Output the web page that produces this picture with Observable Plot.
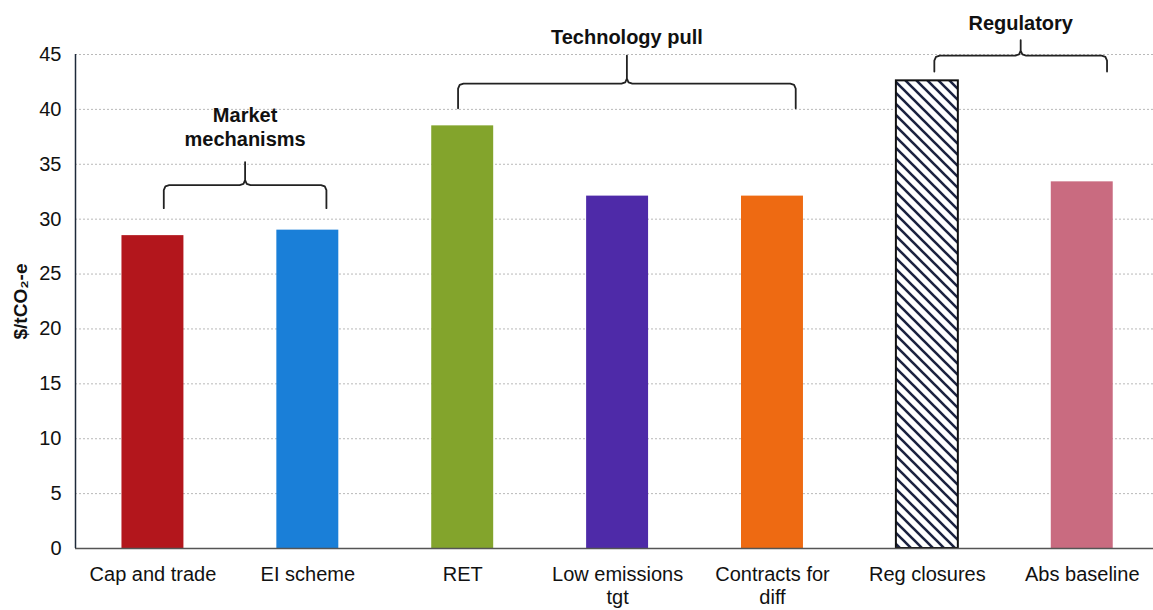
<!DOCTYPE html>
<html>
<head>
<meta charset="utf-8">
<script src="https://cdn.jsdelivr.net/npm/d3@7"></script>
<script src="https://cdn.jsdelivr.net/npm/@observablehq/plot@0.6"></script>
<style>
  html, body { margin: 0; padding: 0; background: #ffffff; }
  #chart { width: 1153px; height: 610px; overflow: hidden; }
</style>
</head>
<body>
<div id="chart"></div>
<script>
// ---- data ----
const categories = ["Cap and trade", "EI scheme", "RET", "Low emissions\ntgt", "Contracts for\ndiff", "Reg closures", "Abs baseline"];
const values = [28.5, 29.0, 38.5, 32.1, 32.1, 42.6, 33.4];
const barColors = ["#b3161c", "#1a7fd8", "#83a42c", "#4e2aa8", "#ee6a12", "url(#hatch)", "#c96b80"];
const yTicks = [0, 5, 10, 15, 20, 25, 30, 35, 40, 45];

// group brackets (in data units: x = bar index, y = $/tCO2-e)
const groupLabels = ["Market\nmechanisms", "Technology pull", "Regulatory"];
const groupStart = [0.07, 1.97, 5.045];
const groupEnd = [1.12, 4.15, 6.16];
const groupLegY = [31.0, 40.1, 43.45];
const groupBarY = [33.1, 42.35, 44.9];
const groupTipY = [35.2, 44.9, 46.3];
const groupLabelY = [38.5, 46.7, 47.9];

const bars = categories.map((c, i) => ({i, cat: c, value: values[i], color: barColors[i]}));

// bracket polylines
const bracketPts = [];
groupLabels.forEach((g, k) => {
  const x1 = groupStart[k], x2 = groupEnd[k], xc = (x1 + x2) / 2;
  const yb = groupLegY[k], yh = groupBarY[k], yt = groupTipY[k];
  const rx = 0.035, ry = 0.45;
  const pts = [
    [x1, yb], [x1, yh - ry], [x1 + rx * 0.3, yh - ry * 0.25], [x1 + rx, yh],
    [xc - rx, yh], [xc - rx * 0.3, yh + ry * 0.25], [xc, yh + ry], [xc, yt],
    [xc, yh + ry], [xc + rx * 0.3, yh + ry * 0.25], [xc + rx, yh],
    [x2 - rx, yh], [x2 - rx * 0.3, yh - ry * 0.25], [x2, yh - ry], [x2, yb]
  ];
  pts.forEach(([x, y], j) => bracketPts.push({g: k, j, x, y}));
});
const groupText = groupLabels.map((t, k) => ({t, x: (groupStart[k] + groupEnd[k]) / 2, y: groupLabelY[k]}));

const font = "'Liberation Sans', Arial, Helvetica, sans-serif";

const chart = Plot.plot({
  width: 1153,
  height: 610,
  marginLeft: 75,
  marginRight: 0,
  marginTop: 54,
  marginBottom: 62,
  style: {fontFamily: font, background: "transparent", overflow: "visible"},
  x: {type: "linear", domain: [-0.5, 6.46]},
  y: {domain: [0, 45]},
  color: {type: "identity"},
  marks: [
    Plot.gridY(yTicks.filter(d => d > 0), {stroke: "#8a8a8a", strokeOpacity: 0.6, strokeDasharray: "2,2", strokeWidth: 1}),
    Plot.axisY(yTicks, {tickSize: 0, tickPadding: 14, fontSize: 20, fill: "#111", label: null}),
    Plot.axisX(d3.range(categories.length), {
      tickSize: 0, tickPadding: 16, fontSize: 20, fill: "#111", lineHeight: 1.15,
      tickFormat: i => categories[i], label: null
    }),
    Plot.text(["$/tCO₂-e"], {frameAnchor: "left", textAnchor: "middle", rotate: -90, dx: -55, fontSize: 19, fontWeight: "bold", fill: "#111"}),
    Plot.rectY(bars, {x1: d => d.i - 0.2, x2: d => d.i + 0.2, y: "value", fill: "color",
      stroke: d => d.color.startsWith("url") ? "#111" : "none", strokeWidth: 2}),
    Plot.ruleY([0], {stroke: "#555", strokeWidth: 1.5}),
    Plot.ruleX([-0.5], {y1: 0, y2: 45, stroke: "#1e2a3a", strokeWidth: 1.5}),
    Plot.line(bracketPts, {x: "x", y: "y", z: "g", stroke: "#222", strokeWidth: 1.8, strokeLinejoin: "round"}),
    Plot.text(groupText, {x: "x", y: "y", text: "t", fontSize: 20, fontWeight: "bold", fill: "#111", lineHeight: 1.2})
  ]
});

d3.select(chart).insert("defs", ":first-child").html(`
  <pattern id="hatch" patternUnits="userSpaceOnUse" width="11" height="11">
    <rect width="11" height="11" fill="#ffffff"/>
    <path d="M-2,-2 L13,13 M-2,9 L2,13 M9,-2 L13,2" stroke="#1b2240" stroke-width="2.6"/>
  </pattern>`);

document.getElementById("chart").appendChild(chart);
</script>
</body>
</html>
